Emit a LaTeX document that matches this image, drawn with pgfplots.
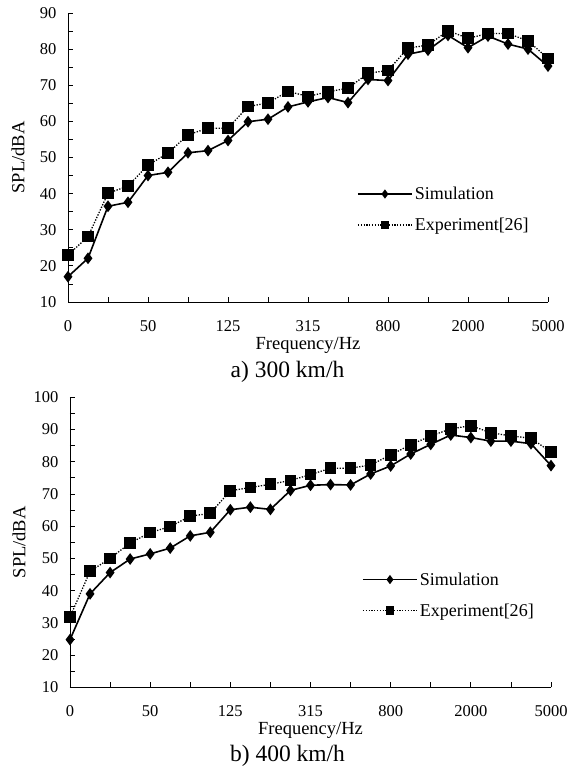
\documentclass[border=0pt]{standalone}
\usepackage{fontspec}
\setmainfont{Liberation Serif}
\usepackage{pgfplots}
\pgfplotsset{compat=1.18}

% x positions 0..24 are the 1/3-octave bands, labelled every 4th
\pgfplotstableread{
idx simA expA simB expB
0  17.0 23.0 24.8 31.8
1  22.1 28.1 39.0 46.0
2  36.5 40.1 45.6 50.0
3  37.6 42.1 49.8 54.8
4  45.0 47.9 51.4 58.0
5  45.9 51.2 53.2 59.9
6  51.3 56.3 57.0 63.1
7  51.9 58.1 58.1 64.0
8  54.7 58.1 65.1 71.0
9  59.9 64.1 65.9 72.0
10 60.6 65.1 65.2 73.0
11 64.0 68.3 71.1 74.2
12 65.4 66.9 72.7 76.0
13 66.6 68.2 72.9 78.0
14 65.2 69.2 72.8 78.0
15 71.6 73.3 76.2 79.0
16 71.3 74.1 78.7 82.1
17 78.6 80.3 82.4 85.3
18 79.7 81.1 85.4 88.0
19 83.8 85.1 88.3 90.2
20 80.4 83.0 87.5 91.2
21 83.6 84.3 86.4 89.0
22 81.4 84.3 86.4 88.0
23 80.0 82.3 85.6 87.3
24 75.3 77.4 78.8 83.0
}\spl

\pgfplotsset{
  splaxis/.style={
    scale only axis, anchor=south west,
    axis lines*=left,
    axis line style={line width=0.9pt, black},
    xmin=0, xmax=24, ymin=10,
    xtick={0,4,...,24},
    xticklabels={0,50,125,315,800,2000,5000},
    minor xtick={2,6,...,22},
    minor y tick num=1,
    tick align=inside,
    major tick length=5pt, minor tick length=5pt,
    tick style={line width=0.8pt, black},
    /pgf/number format/assume math mode=true,
    tick label style={font=\fontsize{16.5}{19}\selectfont},
    xticklabel style={yshift=-15pt},
    yticklabel style={xshift=-8pt},
    label style={font=\fontsize{18.5}{22}\selectfont},
    xlabel={Frequency/Hz},
    ylabel={SPL/dBA},
    legend cell align=left,
    legend style={draw=none, fill=none, inner sep=0pt, row sep=13pt,
      font=\fontsize{18}{21}\selectfont, anchor=west},
    legend image code/.code={\draw[mark repeat=2,mark phase=2,#1,
      every mark/.append style={scale=0.72}]
      plot coordinates {(0pt,0pt) (27pt,0pt) (54pt,0pt)};},
  },
  simline/.style={black, line width=1.6pt, mark=diamond*, mark size=4.6pt},
  expline/.style={black, line width=1.3pt, dash pattern=on 1.3pt off 1.5pt,
    mark=square*, mark size=5.2pt, mark options={solid}},
}

\begin{document}
\begin{tikzpicture}
\useasboundingbox (0pt,0pt) rectangle (568pt,768pt);

\begin{axis}[splaxis,
  at={(68pt,466pt)}, width=480pt, height=289pt,
  ymax=90, ytick={10,20,...,90},
  xlabel style={at={(axis description cs:0.5,-0.149)}, anchor=center},
  ylabel style={at={(axis description cs:-0.104,0.5)}, anchor=center},
  legend style={at={(axis description cs:0.602,0.32)}},
]
\addplot[simline] table[x=idx, y=simA] {\spl};
\addlegendentry{Simulation}
\addplot[expline] table[x=idx, y=expA] {\spl};
\addlegendentry{Experiment[26]}
\end{axis}

\begin{axis}[splaxis,
  at={(70pt,80.7pt)}, width=481pt, height=290pt,
  ymax=100, ytick={10,20,...,100},
  xlabel style={at={(axis description cs:0.5,-0.147)}, anchor=center},
  ylabel style={at={(axis description cs:-0.106,0.5)}, anchor=center},
  legend style={at={(axis description cs:0.607,0.318)}},
]
\addplot[simline] table[x=idx, y=simB] {\spl};
\addlegendentry{Simulation}
\addplot[expline] table[x=idx, y=expB] {\spl};
\addlegendentry{Experiment[26]}
\end{axis}

\node[font=\fontsize{23.5}{27}\selectfont] at (287.5pt,395.7pt) {a) 300 km/h};
\node[font=\fontsize{23.5}{27}\selectfont] at (287.5pt,12.3pt) {b) 400 km/h};
\end{tikzpicture}
\end{document}
